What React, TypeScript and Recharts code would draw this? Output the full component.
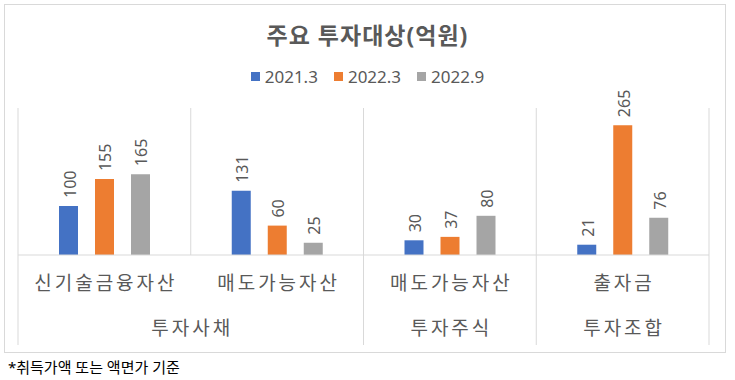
import React from 'react';
import { BarChart, Bar, XAxis, YAxis, LabelList } from 'recharts';

// chart values
const categories = ['신기술금융자산', '매도가능자산', '매도가능자산', '출자금'];
const groups = ['투자사채', '투자사채', '투자주식', '투자조합'];
const seriesNames = ['2021.3', '2022.3', '2022.9'];
const v2021_3 = [100, 131, 30, 21];
const v2022_3 = [155, 60, 37, 265];
const v2022_9 = [165, 25, 80, 76];
const colors = ['#4472C4', '#ED7D31', '#A5A5A5'];

const data = categories.map((name, i) => ({
  name,
  group: groups[i],
  s0: v2021_3[i],
  s1: v2022_3[i],
  s2: v2022_9[i],
}));

const W = 735;
const H = 380;
const M = { top: 108, right: 26, bottom: 25, left: 18 };
const AXIS_H = 100;
const PLOT_TOP = M.top;
const PLOT_BOTTOM = H - M.bottom - AXIS_H;
const BW = (W - M.left - M.right) / categories.length;
const GRID = '#D9D9D9';
const TEXT = '#595959';
const FONT = '"Noto Sans", "Noto Sans CJK KR", sans-serif';

const CategoryTick = (props: any) => {
  const { x, payload } = props;
  const i = payload.index;
  const left = x - BW / 2;
  const groupStart = i === 0 || groups[i - 1] !== groups[i];
  let span = 0;
  if (groupStart) {
    for (let j = i; j < groups.length && groups[j] === groups[i]; j++) span++;
  }
  const last = i === categories.length - 1;
  return (
    <g>
      <line x1={left} x2={left} y1={PLOT_TOP} y2={groupStart ? 345 : PLOT_BOTTOM} stroke={GRID} strokeWidth={1} />
      {last && (
        <line x1={left + BW} x2={left + BW} y1={PLOT_TOP} y2={345} stroke={GRID} strokeWidth={1} />
      )}
      <text x={x + 1.5} y={283} textAnchor="middle" dominantBaseline="central" fontSize={19} letterSpacing={3} fill={TEXT} fontFamily={FONT}>
        {categories[i]}
      </text>
      {groupStart && (
        <text x={left + (span * BW) / 2 + 1.5} y={328} textAnchor="middle" dominantBaseline="central" fontSize={19} letterSpacing={3} fill={TEXT} fontFamily={FONT}>
          {groups[i]}
        </text>
      )}
    </g>
  );
};

const ValueLabel = (props: any) => {
  const { x, y, width, value } = props;
  const cx = x + width / 2 + 1;
  const cy = y - 8;
  return (
    <text x={cx} y={cy} transform={`rotate(-90, ${cx}, ${cy})`} textAnchor="start" dominantBaseline="central" fontSize={16} fill={TEXT} fontFamily={FONT}>
      {value}
    </text>
  );
};

export default function App() {
  return (
    <div style={{ position: 'absolute', left: 0, top: 0, width: W, height: H, background: '#fff', fontFamily: FONT }}>
      <div style={{ position: 'absolute', left: 4, top: 4, width: 720, height: 347, border: `1px solid ${GRID}` }} />
      <div style={{ position: 'absolute', left: 0, width: W, top: 17, textAlign: 'center', fontSize: 23, letterSpacing: 1, fontWeight: 'bold', color: TEXT }}>
        주요 투자대상(억원)
      </div>
      <div style={{ position: 'absolute', left: 0, width: W, top: 65, display: 'flex', justifyContent: 'center', gap: 16, fontSize: 17, color: TEXT }}>
        {seriesNames.map((s, i) => (
          <div key={s} style={{ display: 'flex', alignItems: 'center', gap: 5 }}>
            <span style={{ width: 9, height: 9, background: colors[i], display: 'inline-block' }} />
            <span>{s}</span>
          </div>
        ))}
      </div>
      <div style={{ position: 'absolute', left: 0, top: 0 }}>
        <BarChart width={W} height={H} data={data} margin={M} barSize={19} barGap={17}>
          <YAxis hide domain={[0, 300]} />
          <XAxis dataKey="name" height={AXIS_H} axisLine={{ stroke: GRID }} tickLine={false} tick={<CategoryTick />} interval={0} />
          {['s0', 's1', 's2'].map((k, i) => (
            <Bar key={k} dataKey={k} name={seriesNames[i]} fill={colors[i]} isAnimationActive={false}>
              <LabelList dataKey={k} content={<ValueLabel />} />
            </Bar>
          ))}
        </BarChart>
      </div>
      <div style={{ position: 'absolute', left: 8, top: 356, fontSize: 15, color: '#000' }}>
        *취득가액 또는 액면가 기준
      </div>
    </div>
  );
}
